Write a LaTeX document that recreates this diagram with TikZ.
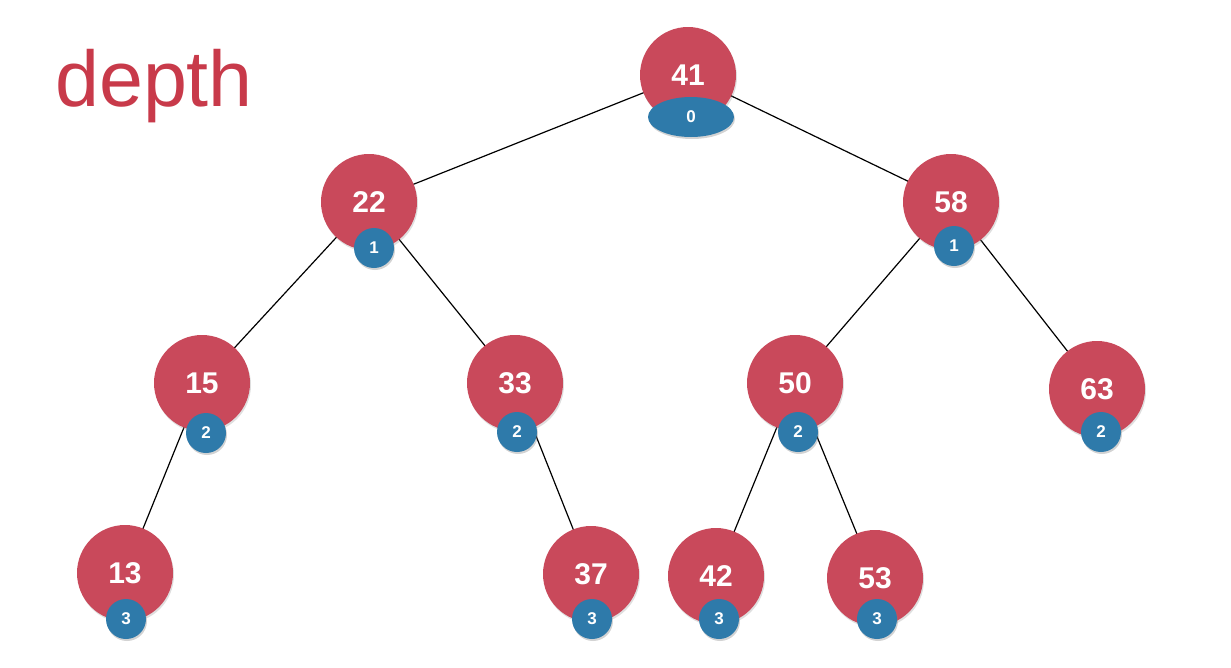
\documentclass[tikz,border=0pt]{standalone}
\usepackage{fontspec}
\setmainfont{Liberation Sans}
\usetikzlibrary{shapes.geometric,shadows}
\definecolor{nodered}{RGB}{201,73,91}
\definecolor{nodeblue}{RGB}{46,122,170}
\definecolor{titlered}{RGB}{200,58,74}
\tikzset{
  keynode/.style={circle, fill=nodered, minimum size=96pt, inner sep=0pt, text=white,
    font=\fontsize{30}{30}\selectfont\bfseries,
    drop shadow={opacity=0.25, shadow xshift=1pt, shadow yshift=-2pt}},
  depthnode/.style={circle, fill=nodeblue, minimum size=40pt, inner sep=0pt, text=white,
    font=\fontsize{17}{17}\selectfont\bfseries,
    drop shadow={opacity=0.35, shadow xshift=1pt, shadow yshift=-2pt}},
  rootdepth/.style={ellipse, fill=nodeblue, minimum width=86pt, minimum height=40pt, inner sep=0pt, text=white,
    font=\fontsize{17}{17}\selectfont\bfseries,
    drop shadow={opacity=0.35, shadow xshift=1pt, shadow yshift=-2pt}},
  edge/.style={draw=black, line width=1.2pt}
}
\begin{document}
\begin{tikzpicture}[x=1pt,y=-1pt]
\useasboundingbox (0,0) rectangle (1231,667);
% key node positions
\coordinate (p41) at (688,75);
\coordinate (p22) at (369,202);
\coordinate (p58) at (951,202);
\coordinate (p15) at (202,383);
\coordinate (p33) at (515,383);
\coordinate (p50) at (795,383);
\coordinate (p63) at (1097,389);
\coordinate (p13) at (125,573);
\coordinate (p37) at (591,574);
\coordinate (p42) at (716,576);
\coordinate (p53) at (875,578);
% edges (behind)
\draw[edge] (p41) -- (p22);
\draw[edge] (p41) -- (p58);
\draw[edge] (p22) -- (p15);
\draw[edge] (p22) -- (p33);
\draw[edge] (p58) -- (p50);
\draw[edge] (p58) -- (p63);
\draw[edge] (p15) -- (p13);
\draw[edge] (p33) -- (p37);
\draw[edge] (p50) -- (p42);
\draw[edge] (p50) -- (p53);
% key nodes
\node[keynode] (n41) at (p41) {41};
\node[keynode] (n22) at (p22) {22};
\node[keynode] (n58) at (p58) {58};
\node[keynode] (n15) at (p15) {15};
\node[keynode] (n33) at (p33) {33};
\node[keynode] (n50) at (p50) {50};
\node[keynode] (n63) at (p63) {63};
\node[keynode] (n13) at (p13) {13};
\node[keynode] (n37) at (p37) {37};
\node[keynode] (n42) at (p42) {42};
\node[keynode] (n53) at (p53) {53};
% depth labels
\node[rootdepth] (d41) at (691,117) {0};
\node[depthnode] (d22) at (374,248) {1};
\node[depthnode] (d58) at (954,246) {1};
\node[depthnode] (d15) at (206,433) {2};
\node[depthnode] (d33) at (517,432) {2};
\node[depthnode] (d50) at (798,432) {2};
\node[depthnode] (d63) at (1101,432) {2};
\node[depthnode] (d13) at (126,619) {3};
\node[depthnode] (d37) at (592,619) {3};
\node[depthnode] (d42) at (719,619) {3};
\node[depthnode] (d53) at (877,619) {3};
% title
\node[anchor=base west, inner sep=0pt, text=titlered, font=\fontsize{79}{79}\selectfont] (title) at (55,106) {depth};
\end{tikzpicture}
\end{document}
